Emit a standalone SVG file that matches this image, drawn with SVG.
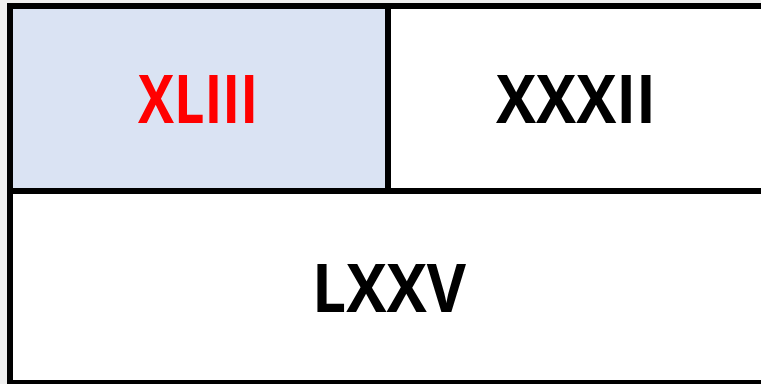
<svg xmlns="http://www.w3.org/2000/svg" width="761" height="384" viewBox="0 0 761 384">
<style>
.cell{stroke:#000;stroke-width:6}
.t{font-family:"Open Sans","Liberation Sans",sans-serif;font-weight:bold;font-size:66px;text-anchor:middle}
</style>
<rect x="0" y="0" width="761" height="384" fill="#efefef"/>
<g id="outer"><rect class="cell" x="10" y="6" width="800" height="377" fill="#fff"/></g>
<g id="cell-xliii">
<rect class="cell" x="10" y="6" width="378" height="185" fill="#dae3f3"/>
<text class="t" x="198" y="123" fill="#ff0000" textLength="120" lengthAdjust="spacingAndGlyphs">XLIII</text>
</g>
<g id="cell-xxxii">
<text class="t" x="576" y="123" fill="#000" textLength="160" lengthAdjust="spacingAndGlyphs">XXXII</text>
</g>
<g id="cell-lxxv">
<line class="cell" x1="388" y1="191" x2="810" y2="191"/>
<text class="t" x="389" y="312" fill="#000" textLength="154" lengthAdjust="spacingAndGlyphs">LXXV</text>
</g>
<g id="connectors"></g>
</svg>
